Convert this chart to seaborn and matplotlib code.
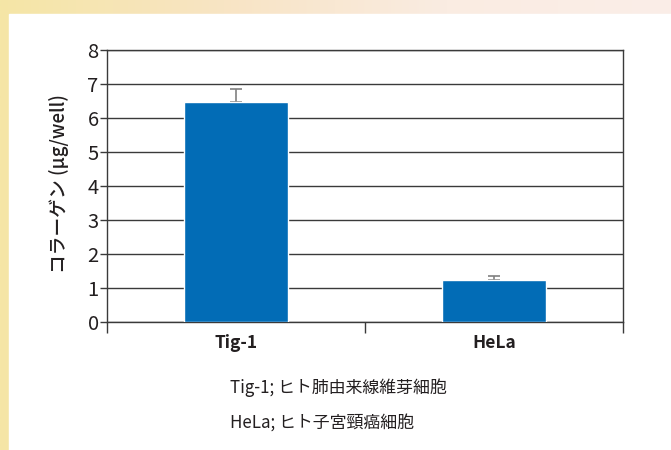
import numpy as np
import pandas as pd
import matplotlib
matplotlib.use("Agg")
import matplotlib.pyplot as plt
import seaborn as sns
from matplotlib.colors import LinearSegmentedColormap

# ==========================================
# Data
# ==========================================

cells = ["Tig-1", "HeLa"]
collagen = [6.48, 1.24]
collagen_err = [0.38, 0.12]
y_ticks = [0, 1, 2, 3, 4, 5, 6, 7, 8]

ylabel = "コラーゲン (µg/well)"
notes = ["Tig-1; ヒト肺由来線維芽細胞", "HeLa; ヒト子宮頸癌細胞"]

df = pd.DataFrame({"cell": cells, "collagen": collagen})

# ==========================================
# Style
# ==========================================

sns.set_theme(style="white")
plt.rcParams["font.family"] = ["Noto Sans CJK JP", "DejaVu Sans"]

bar_color = "#026cb6"
line_color = "#3a3a3a"
text_color = "#231f20"

fig = plt.figure(figsize=(6.71, 4.5), dpi=100)

# warm page background with a white card on top
bg = fig.add_axes([0, 0, 1, 1], zorder=-10)
grad = np.linspace(0, 1, 256)[None, :]
warm = LinearSegmentedColormap.from_list(
    "warm", ["#f5e6a6", "#f8e4c4", "#faece2", "#fbeee8"])
bg.imshow(grad, aspect="auto", cmap=warm, extent=[0, 1, 0, 1])
bg.add_patch(plt.Rectangle((9 / 671, 0), 1, 1 - 14 / 450, color="white"))
bg.set_xlim(0, 1)
bg.set_ylim(0, 1)
bg.axis("off")

ax = fig.add_axes([107 / 671, 1 - 322 / 450, 516 / 671, 272 / 450])
ax.set_facecolor("white")

# ==========================================
# Bars
# ==========================================

sns.barplot(data=df, x="cell", y="collagen", color=bar_color, width=0.4,
            saturation=1, errorbar=None, ax=ax, zorder=3)

ax.errorbar(range(len(cells)), collagen,
            yerr=[np.zeros(len(cells)), collagen_err],
            fmt="none", ecolor="#808080", elinewidth=1.2, capsize=4.3,
            capthick=1.2, zorder=2)

# ==========================================
# Axes
# ==========================================

ax.set_xlim(-0.5, 1.5)
ax.set_ylim(0, 8)
ax.set_yticks(y_ticks)
ax.set_yticklabels([str(t) for t in y_ticks], fontsize=14.5, color=text_color)
ax.yaxis.grid(True, color=line_color, linewidth=1)
ax.set_axisbelow(True)

ax.set_xticks(range(len(cells)))
ax.set_xticklabels(cells, fontsize=12.5, fontweight=600, color=text_color)
ax.set_xticks([-0.5, 0.5, 1.5], minor=True)
ax.tick_params(axis="x", which="major", length=0, pad=9)
ax.tick_params(axis="x", which="minor", bottom=True, length=8, width=1,
               color=line_color, direction="out")
ax.tick_params(axis="y", left=True, length=5, width=1, color=line_color,
               direction="out", pad=1)

for side in ["left", "right", "top", "bottom"]:
    ax.spines[side].set_visible(True)
    ax.spines[side].set_color(line_color)
    ax.spines[side].set_linewidth(1)

ax.set_xlabel("")
ax.set_ylabel(ylabel, fontsize=13.5, fontweight=500, color=text_color)
ax.yaxis.set_label_coords(-0.074, 0.51)

# ==========================================
# Notes
# ==========================================

fig.text(230 / 671, 1 - 388 / 450, notes[0], fontsize=12.2, color=text_color,
         va="center", ha="left")
fig.text(230 / 671, 1 - 424 / 450, notes[1], fontsize=12.2, color=text_color,
         va="center", ha="left")

fig.savefig("out.png", dpi=100)
